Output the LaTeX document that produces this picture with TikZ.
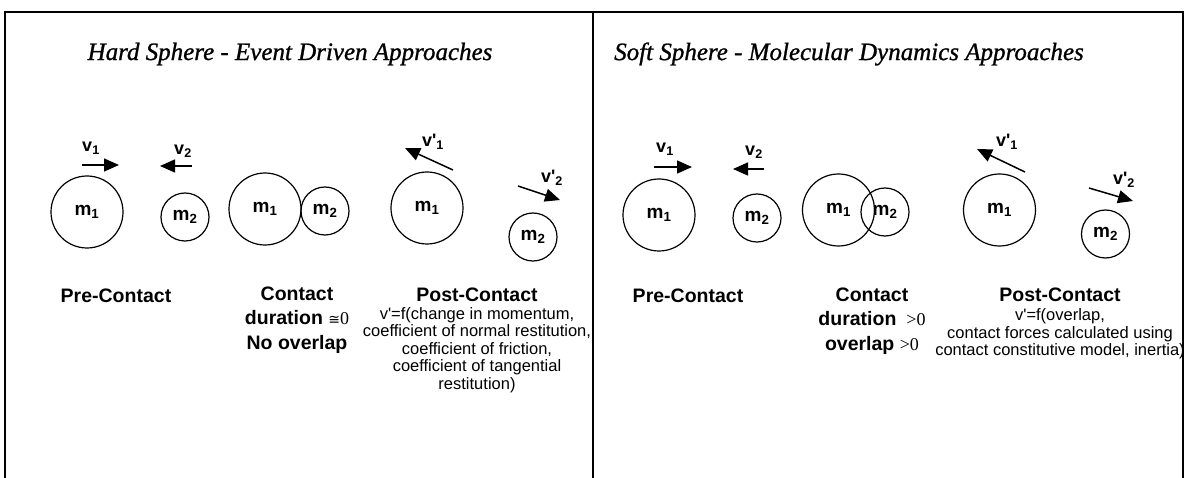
\documentclass[tikz,border=0pt]{standalone}
\usepackage{fontspec}
\setmainfont{Liberation Sans}
\newfontfamily\titlefont{Liberation Serif}
\newfontfamily\relfont{Liberation Serif}
\newfontfamily\symbolfont{DejaVu Sans}
\usetikzlibrary{arrows.meta}

\newcommand\lbl[2]{#1\textsubscript{#2}}
\newcommand\plbl[2]{#1\textquotesingle\textsubscript{#2}}
\newcommand\rel[1]{{\relfont\mdseries\fontsize{18}{18}\selectfont #1}}
\newcommand\approxeq{{\symbolfont\mdseries\fontsize{14}{14}\selectfont ≅}\rel{0}}

\tikzset{
  ball/.style={circle, draw, line width=1.2pt, inner sep=0pt,
    font=\fontsize{19}{19}\selectfont\bfseries},
  bigball/.style={ball, minimum size=72pt},
  smallball/.style={ball, minimum size=48pt},
  vel/.style={line width=1.5pt, -{Triangle[length=15pt,width=13pt]}},
  vlab/.style={font=\fontsize{18}{18}\selectfont\bfseries, inner sep=0pt},
  stage/.style={font=\fontsize{19.5}{24.5}\selectfont\bfseries, align=center, inner sep=0pt},
  note/.style={font=\fontsize{16.5}{17.5}\selectfont, align=center, inner sep=0pt},
  panelttl/.style={font=\titlefont\itshape\addfontfeature{FakeBold=1}\fontsize{25}{25}\selectfont, inner sep=0pt},
  frame/.style={line width=1.5pt},
}

\begin{document}
\begin{tikzpicture}[x=1pt,y=-1pt]
\useasboundingbox (0,0) rectangle (1186,478);

% frame and divider
\draw[frame] (5,478) -- (5,12) -- (1183,12) -- (1183,478);
\draw[frame] (593,12) -- (593,478);

% titles
\node[panelttl] (t1) at (290,54) {Hard Sphere - Event Driven Approaches};
\node[panelttl] (t2) at (849,54) {Soft Sphere - Molecular Dynamics Approaches};

% ---------- hard sphere panel ----------
\node[bigball]   (a1) at (87,212)  {\lbl{m}{1}};
\node[smallball] (a2) at (185,217) {\lbl{m}{2}};
\coordinate (av1s) at (82,165);  \coordinate (av1e) at (119,165);
\coordinate (av2s) at (192,166); \coordinate (av2e) at (160,166);
\draw[vel] (av1s) -- (av1e);
\draw[vel] (av2s) -- (av2e);
\node[vlab] (av1) at (91,148) {\lbl{v}{1}};
\node[vlab] (av2) at (183,151) {\lbl{v}{2}};

\node[bigball]   (b1) at (265,209) {\lbl{m}{1}};
\node[smallball] (b2) at (325,211) {\lbl{m}{2}};

\node[bigball]   (c1) at (427,208) {\lbl{m}{1}};
\node[smallball] (c2) at (533,237) {\lbl{m}{2}};
\coordinate (cv1s) at (453,170); \coordinate (cv1e) at (405,148);
\coordinate (cv2s) at (518,186); \coordinate (cv2e) at (560,200);
\draw[vel] (cv1s) -- (cv1e);
\draw[vel] (cv2s) -- (cv2e);
\node[vlab] (cv1) at (433,142) {\plbl{v}{1}};
\node[vlab] (cv2) at (552,178) {\plbl{v}{2}};

\node[stage] (apre) at (116,296) {Pre-Contact};
\node[stage] (bcon) at (297,320) {Contact\\duration \approxeq\\No overlap};
\node[stage] (cpost) at (477,295) {Post-Contact};
\node[note] (cnote) at (477,350) {v\textquotesingle=f(change in momentum,\\coefficient of normal restitution,\\coefficient of friction,\\coefficient of tangential\\restitution)};

% ---------- soft sphere panel ----------
\node[bigball]   (d1) at (659,215) {\lbl{m}{1}};
\node[smallball] (d2) at (757,218) {\lbl{m}{2}};
\coordinate (dv1s) at (654,167); \coordinate (dv1e) at (692,167);
\coordinate (dv2s) at (764,169); \coordinate (dv2e) at (733,169);
\draw[vel] (dv1s) -- (dv1e);
\draw[vel] (dv2s) -- (dv2e);
\node[vlab] (dv1) at (665,149) {\lbl{v}{1}};
\node[vlab] (dv2) at (754,152) {\lbl{v}{2}};

\node[bigball]   (e1) at (838.5,210) {\lbl{m}{1}};
\node[smallball] (e2) at (885,212)   {\lbl{m}{2}};

\node[bigball]   (f1) at (999.5,210)  {\lbl{m}{1}};
\node[smallball] (f2) at (1105.5,234) {\lbl{m}{2}};
\coordinate (fv1s) at (1025,172); \coordinate (fv1e) at (977,149);
\coordinate (fv2s) at (1089,188); \coordinate (fv2e) at (1133,201);
\draw[vel] (fv1s) -- (fv1e);
\draw[vel] (fv2s) -- (fv2e);
\node[vlab] (fv1) at (1007,142) {\plbl{v}{1}};
\node[vlab] (fv2) at (1124,180) {\plbl{v}{2}};

\node[stage] (dpre) at (688,296) {Pre-Contact};
\node[stage] (econ) at (872,321) {Contact\\duration \rel{\ >0}\\overlap \rel{>0}};
\node[stage] (fpost) at (1060,295) {Post-Contact};
\node[note] (fnote) at (1060,334) {v\textquotesingle=f(overlap,\\contact forces calculated using\\contact constitutive model, inertia)};
\end{tikzpicture}
\end{document}
